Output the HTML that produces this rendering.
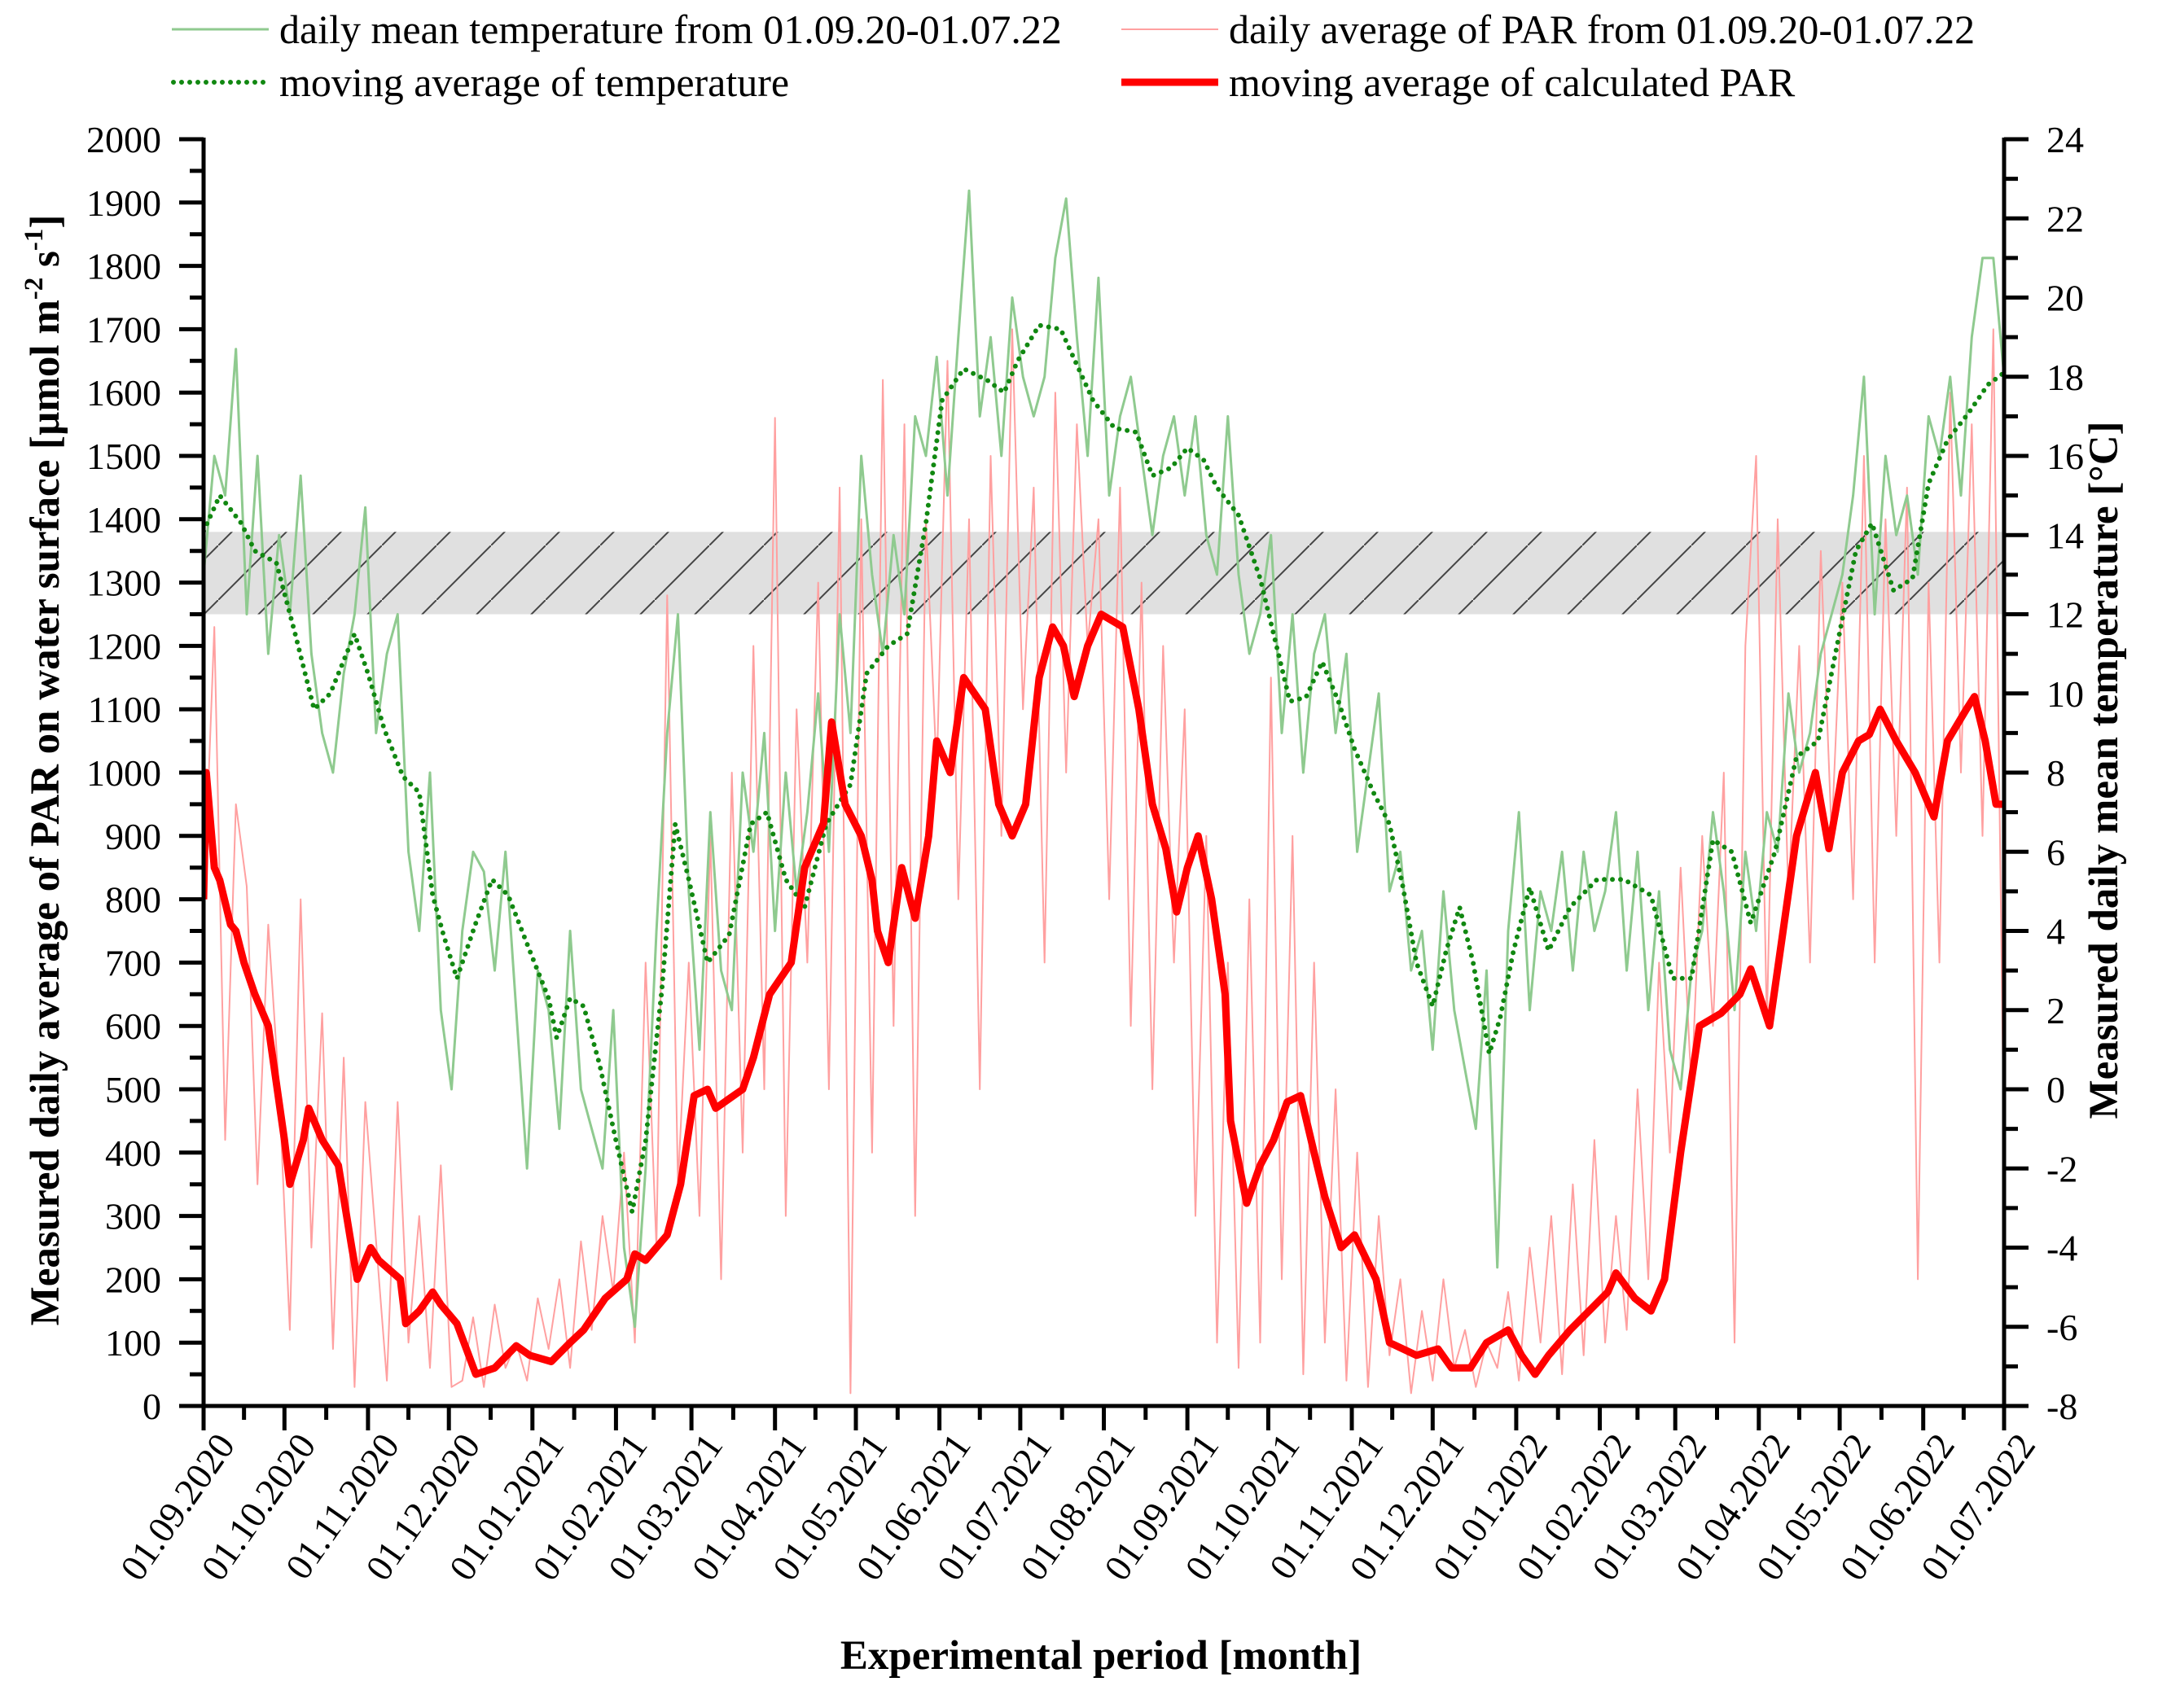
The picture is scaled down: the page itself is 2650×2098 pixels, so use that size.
<!DOCTYPE html>
<html><head><meta charset="utf-8"><style>
html,body{margin:0;padding:0;background:#fff}
svg{display:block}
svg text{font-family:"Liberation Serif","Times New Roman",serif}
</style></head><body>
<svg id="chart" width="2650" height="2098" viewBox="0 0 2650 2098" xmlns="http://www.w3.org/2000/svg" font-family="Liberation Serif, serif">
<defs>
<pattern id="hatch" patternUnits="userSpaceOnUse" width="67" height="67">
<rect width="67" height="67" fill="#e0e0e0"/>
<line x1="0" y1="67" x2="67" y2="0" stroke="#444" stroke-width="2"/>
</pattern>
<clipPath id="plotclip"><rect x="250" y="171" width="2211" height="1556"/></clipPath>
</defs>
<g id="legend">
<g>
<line x1="211" y1="36" x2="330" y2="36" stroke="#8fca8f" stroke-width="3"/>
<text x="343" y="53" font-size="50">daily mean temperature from 01.09.20-01.07.22</text></g>
<g>
<line x1="213" y1="101" x2="330" y2="101" stroke="#118811" stroke-width="6" stroke-dasharray="0 10" stroke-linecap="round"/>
<text x="343" y="118" font-size="50">moving average of temperature</text></g>
<g>
<line x1="1377" y1="36" x2="1496" y2="36" stroke="#ffa0a0" stroke-width="2"/>
<text x="1509" y="53" font-size="50">daily average of PAR from 01.09.20-01.07.22</text></g>
<g>
<line x1="1377" y1="101" x2="1496" y2="101" stroke="#ff0000" stroke-width="9"/>
<text x="1509" y="118" font-size="50">moving average of calculated PAR</text></g>
</g>
<g id="plot"></g>
<g id="axes"></g>
<text transform="translate(72,946) rotate(-90)" text-anchor="middle" font-size="51" font-weight="bold">Measured daily average of PAR on water surface [µmol m<tspan dy="-20" font-size="33">-2</tspan><tspan dy="20"> s</tspan><tspan dy="-20" font-size="33">-1</tspan><tspan dy="20">]</tspan></text>
<text transform="translate(2600,946) rotate(-90)" text-anchor="middle" font-size="51" font-weight="bold">Measured daily mean temperature [°C]</text>
<text x="1352" y="2050" text-anchor="middle" font-size="51" font-weight="bold">Experimental period [month]</text>
</svg>
<script>
const monthLabels=["01.09.2020","01.10.2020","01.11.2020","01.12.2020","01.01.2021","01.02.2021","01.03.2021","01.04.2021","01.05.2021","01.06.2021","01.07.2021","01.08.2021","01.09.2021","01.10.2021","01.11.2021","01.12.2021","01.01.2022","01.02.2022","01.03.2022","01.04.2022","01.05.2022","01.06.2022","01.07.2022"];
const monthDays=[0,30,61,91,122,153,181,212,242,273,303,334,365,395,426,456,487,518,546,577,607,638,668];
const parTicks=[0,100,200,300,400,500,600,700,800,900,1000,1100,1200,1300,1400,1500,1600,1700,1800,1900,2000];
const tempTicks=[-8,-6,-4,-2,0,2,4,6,8,10,12,14,16,18,20,22,24];
const band=[1250,1380];
const dailyStep=4;
const dailyPar=[780,1230,420,950,820,350,760,500,120,800,250,620,90,550,30,480,260,40,480,100,300,60,380,30,40,140,30,160,60,100,40,170,90,200,60,260,120,300,180,400,100,700,250,1280,350,700,300,900,200,1000,400,1200,500,1560,300,1100,700,1300,500,1450,20,1400,400,1620,600,1550,300,1400,1000,1650,800,1400,500,1500,900,1700,1100,1450,700,1600,1000,1550,1200,1400,800,1450,600,1300,500,1200,700,1100,300,900,100,700,60,800,100,1150,200,900,50,700,100,500,40,400,30,300,80,200,20,150,40,200,60,120,30,100,60,180,40,250,100,300,50,350,80,420,100,300,120,500,200,700,400,850,500,900,600,1000,100,1200,1500,600,1400,800,1200,700,1350,900,1300,800,1500,700,1400,900,1450,200,1300,700,1600,1000,1550,900,1700,400];
const dailyTemp=[13,16,15,18.7,12,16,11,14,12,15.5,11,9,8,10.5,12,14.7,9,11,12,6,4,8,2,0,4,6,5.5,3,6,2,-2,3,2,-1,4,0,-1,-2,2,-4,-6,-2,4,9,12,5,1,7,3,2,8,6,9,4,8,5,7,10,6,12,9,16,13,11,14,12,17,16,18.5,15,19,22.7,17,19,16,20,18,17,18,21,22.5,19,16,20.5,15,17,18,16,14,16,17,15,17,14,13,17,13,11,12,14,9,12,8,11,12,9,11,6,8,10,5,6,3,4,1,5,2,0.5,-1,3,-4.5,4,7,2,5,4,6,3,6,4,5,7,3,6,2,5,1,0,3,4,7,5,2,6,4,7,6,10,8,9,11,12,13,15,18,12,16,14,15,13,17,16,18,15,19,21,21,18];
const parMaDays=[0,1,4,6,10,12,15,19,24,30,32,37,39,44,50,55,57,62,65,73,75,80,85,88,94,101,108,116,121,129,136,141,149,157,160,164,172,177,182,187,190,200,204,210,218,223,230,233,238,244,248,250,254,259,264,269,272,277,282,290,295,300,305,310,315,319,323,328,333,341,347,352,357,361,365,369,374,379,381,387,392,397,402,407,412,416,422,427,435,440,450,458,463,470,476,484,489,494,499,507,514,521,524,531,537,542,548,555,563,570,574,581,586,591,598,603,608,614,618,622,628,635,642,647,654,657,661,665,668];
const parMa=[800,1000,850,830,760,750,700,650,600,420,350,420,470,420,380,250,200,250,230,200,130,150,180,160,130,50,60,95,80,70,100,120,170,200,240,230,270,350,490,500,470,500,550,650,700,850,920,1080,950,900,830,750,700,850,770,900,1050,1000,1150,1100,950,900,950,1150,1230,1200,1120,1200,1250,1230,1100,950,880,780,850,900,800,650,450,320,380,420,480,490,400,330,250,270,200,100,80,90,60,60,100,120,80,50,80,120,150,180,210,170,150,200,400,600,620,650,690,600,750,900,1000,880,1000,1050,1060,1100,1050,1000,930,1050,1100,1120,1050,950,950,1030];
const tempMaDays=[0,6,14,19,27,34,41,47,56,61,67,74,80,85,89,94,101,107,113,121,128,131,136,141,147,153,159,164,170,175,180,187,195,203,209,216,223,231,240,246,254,261,268,274,282,291,297,302,310,318,324,330,338,346,352,359,365,371,376,384,392,397,403,409,415,421,427,434,440,445,450,456,461,466,471,477,481,486,492,499,507,517,527,537,545,552,560,567,574,583,591,599,606,613,619,627,634,640,647,655,662,668];
const tempMa=[14.1,15,14.3,13.6,13.3,11.5,9.6,10,11.5,10.5,9.1,7.9,7.5,4.9,3.9,2.8,4.2,5.3,4.9,3.5,2.3,1.3,2.3,2.1,0.6,-1.3,-3.1,-1.3,2.5,6.7,5.3,3.2,3.9,6.7,7,5.3,4.6,6.7,7.7,10.5,11.2,11.5,14.3,17.4,18.2,17.9,17.6,18.4,19.3,19.2,18.3,17.4,16.7,16.6,15.5,15.7,16.2,15.9,15.2,14.5,12.9,11.5,9.8,9.9,10.8,9.8,8.6,7.5,6.7,5.1,3.2,2.1,3.5,4.6,3.2,0.9,1.8,3.5,5.1,3.5,4.6,5.3,5.3,4.9,2.8,2.8,6.3,6,4.2,6,8.4,8.8,11.2,13.6,14.3,12.6,12.9,15.3,16.4,17.1,17.8,18.1];

const NS="http://www.w3.org/2000/svg";
const X0=250,X1=2461,Y0=1727,Y1=171,DAYS=668;
const xs=d=>X0+(d/DAYS)*(X1-X0);
const yP=v=>Y0-(v/2000)*(Y0-Y1);
const yT=t=>Y0-((t+8)/32)*(Y0-Y1);
function mk(tag,attrs,parent){const e=document.createElementNS(NS,tag);for(const k in attrs)e.setAttribute(k,attrs[k]);parent.appendChild(e);return e;}
const plot=document.getElementById('plot');
const axes=document.getElementById('axes');
const clipG=mk('g',{'clip-path':'url(#plotclip)'},plot);

const bandEl=mk('rect',{x:X0,y:yP(band[1]),width:X1-X0,height:yP(band[0])-yP(band[1]),fill:'url(#hatch)'},clipG);



function pts(xsArr,ys,fy){return xsArr.map((d,i)=>xs(d).toFixed(1)+','+fy(ys[i]).toFixed(1)).join(' ');}
const dDays=dailyPar.map((_,i)=>i*dailyStep);
const p1=mk('polyline',{points:pts(dDays,dailyPar,yP),fill:'none',stroke:'#ffa0a0','stroke-width':2,'stroke-linejoin':'round'},clipG);


const tDays=dailyTemp.map((_,i)=>i*dailyStep);
const p2=mk('polyline',{points:pts(tDays,dailyTemp,yT),fill:'none',stroke:'#8fca8f','stroke-width':3,'stroke-linejoin':'round'},clipG);


const p3=mk('polyline',{points:pts(tempMaDays,tempMa,yT),fill:'none',stroke:'#118811','stroke-width':6,'stroke-dasharray':'0 10','stroke-linecap':'round'},clipG);


const p4=mk('polyline',{points:pts(parMaDays,parMa,yP),fill:'none',stroke:'#ff0000','stroke-width':9,'stroke-linejoin':'round'},clipG);



const ax=mk('path',{d:`M${X0},${Y1-2}V${Y0}H${X1}V${Y1-2}`,fill:'none',stroke:'#000','stroke-width':5},axes);


parTicks.forEach(v=>{
 const y=yP(v);
 mk('line',{x1:X0-30,y1:y,x2:X0,y2:y,stroke:'#000','stroke-width':5},axes);
 if(v<2000) mk('line',{x1:X0-17,y1:yP(v+50),x2:X0,y2:yP(v+50),stroke:'#000','stroke-width':5},axes);
 const t=mk('text',{x:X0-52,y:y+16,'text-anchor':'end','font-size':46},axes);
 t.textContent=v;
 
 
});
tempTicks.forEach(v=>{
 const y=yT(v);
 mk('line',{x1:X1,y1:y,x2:X1+30,y2:y,stroke:'#000','stroke-width':5},axes);
 if(v<24) mk('line',{x1:X1,y1:yT(v+1),x2:X1+17,y2:yT(v+1),stroke:'#000','stroke-width':5},axes);
 const t=mk('text',{x:X1+52,y:y+16,'text-anchor':'start','font-size':46},axes);
 t.textContent=v;
 
 
});
monthDays.forEach((d,i)=>{
 const x=xs(d);
 mk('line',{x1:x,y1:Y0,x2:x,y2:Y0+30,stroke:'#000','stroke-width':5},axes);
 if(i<monthDays.length-1){const xm=xs((d+monthDays[i+1])/2);mk('line',{x1:xm,y1:Y0,x2:xm,y2:Y0+17,stroke:'#000','stroke-width':5},axes);}
 const t=mk('text',{transform:`translate(${x+40},${Y0+48}) rotate(-55)`,'text-anchor':'end','font-size':46},axes);
 t.textContent=monthLabels[i];
 
 
});
</script>
</body></html>
